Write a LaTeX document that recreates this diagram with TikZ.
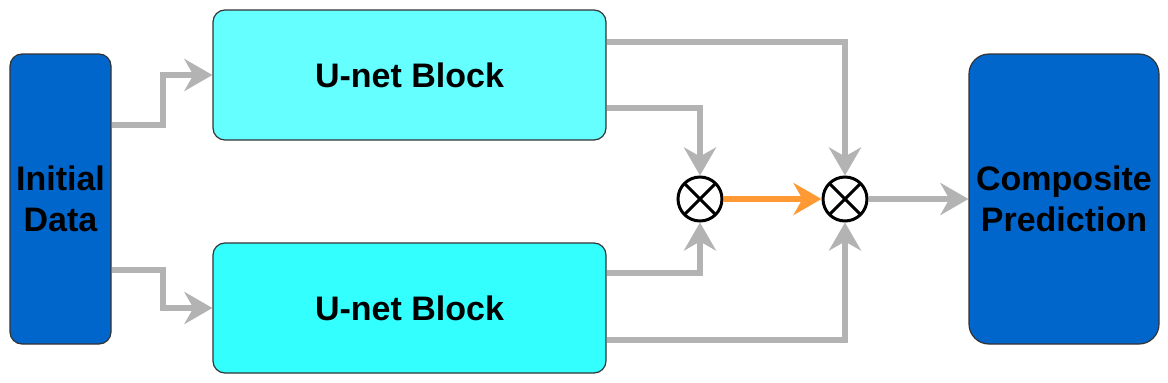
\documentclass[tikz,border=0pt]{standalone}
\usepackage{fontspec}
\setmainfont{Liberation Sans}
\usepackage{tikz}
\usetikzlibrary{arrows.meta, positioning}

\definecolor{datablue}{HTML}{0066CC}
\definecolor{unetlight}{HTML}{66FFFF}
\definecolor{unetdark}{HTML}{33FFFF}
\definecolor{linkgray}{HTML}{B3B3B3}
\definecolor{mergeorange}{HTML}{FF9933}

\begin{document}
\begin{tikzpicture}[
        x=1pt, y=-1pt,
        block/.style={draw=black!80, line width=1.2pt, rounded corners=12pt, inner sep=0pt, align=center,
            font=\bfseries\fontsize{34}{41}\selectfont},
        merge/.style={circle, draw=black, line width=3pt, fill=white, minimum size=44pt, inner sep=0pt,
            path picture={
                \draw[line width=3pt] ([shift={(45:23pt)}]path picture bounding box.center) -- ([shift={(225:23pt)}]path picture bounding box.center);
                \draw[line width=3pt] ([shift={(135:23pt)}]path picture bounding box.center) -- ([shift={(-45:23pt)}]path picture bounding box.center);
            }},
        link/.style={draw=linkgray, line width=6pt, -{Stealth[length=28pt, width=32pt, inset=9pt]}},
        >=Stealth
    ]
        \useasboundingbox[fill=white] (0,0) rectangle (1168,383);

        % Blocks
        \node[block, fill=datablue, minimum width=101pt, minimum height=290pt] (init) at (60.5,199) {Initial\\Data};
        \node[block, fill=unetlight, minimum width=393pt, minimum height=130pt] (unetA) at (409.5,75) {U-net Block};
        \node[block, fill=unetdark, minimum width=393pt, minimum height=130pt] (unetB) at (409.5,308) {U-net Block};
        \node[block, fill=datablue, rounded corners=20pt, minimum width=190pt, minimum height=290pt] (pred) at (1064,199) {Composite\\Prediction};

        % Merges
        \node[merge] (mulA) at (700,199) {};
        \node[merge] (mulB) at (845,199) {};

        % Arrows
        \draw[link] ([yshift=74pt]init.east) -- ++(51pt,0) |- (unetA.west);
        \draw[link] ([yshift=-71pt]init.east) -- ++(51pt,0) |- (unetB.west);
        \draw[link] ([yshift=-33pt]unetA.east) -| (mulA.north);
        \draw[link] ([yshift=33pt]unetA.east) -| (mulB.north);
        \draw[link] ([yshift=35pt]unetB.east) -| (mulA.south);
        \draw[link] ([yshift=-32pt]unetB.east) -| (mulB.south);
        \draw[link, draw=mergeorange] (mulA.east) -- (mulB.west);
        \draw[link] (mulB.east) -- (pred.west);
    \end{tikzpicture}
\end{document}
